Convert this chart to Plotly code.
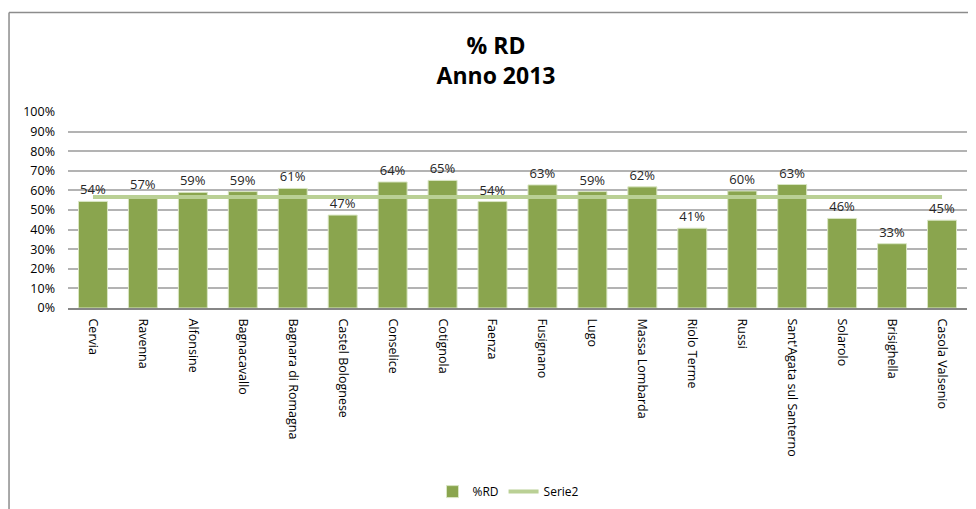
import plotly.graph_objects as go

comuni = ['Cervia', 'Ravenna', 'Alfonsine', 'Bagnacavallo', 'Bagnara di Romagna',
          'Castel Bolognese', 'Conselice', 'Cotignola', 'Faenza', 'Fusignano', 'Lugo',
          'Massa Lombarda', 'Riolo Terme', 'Russi', "Sant'Agata sul Santerno",
          'Solarolo', 'Brisighella', 'Casola Valsenio']
rd = [0.544, 0.571, 0.590, 0.594, 0.610, 0.474, 0.643, 0.651, 0.543, 0.628, 0.594,
      0.618, 0.407, 0.597, 0.630, 0.457, 0.328, 0.448]
serie2 = [0.566] * len(comuni)

bar = go.Bar(
    x=comuni, y=rd, name='%RD',
    marker=dict(color='#8aa54e', line=dict(color='#d9e6c4', width=1)),
    width=0.58,
    text=[f'{v:.0%}' for v in rd], textposition='outside',
    textfont=dict(size=13, color='#262626'),
    cliponaxis=False,
)
line = go.Scatter(
    x=comuni, y=serie2, name='Serie2', mode='lines',
    line=dict(color='#bad095', width=4),
)

# la pagina ha un margine di 8px, quindi i margini sono compensati
layout = go.Layout(
    width=976, height=509,
    paper_bgcolor='white', plot_bgcolor='white',
    font=dict(family='Open Sans', size=12, color='#000000'),
    title=dict(text='<b>% RD</b><br><b>Anno 2013</b>', x=0.5, xanchor='center',
               y=0.91, yanchor='top', font=dict(size=23, family='Open Sans')),
    margin=dict(l=60, r=17, t=104, b=208),
    showlegend=True,
    legend=dict(orientation='h', x=0.49, xanchor='center', y=-0.927, yanchor='middle',
                font=dict(size=12), itemwidth=30),
    xaxis=dict(tickangle=90, showline=True, linecolor='#868686', linewidth=2,
               ticks='', tickfont=dict(size=12.5), showgrid=False,
               ticklabelstandoff=6),
    yaxis=dict(range=[0, 1], dtick=0.1, tickformat='.0%', showgrid=True,
               gridcolor='#b3b3b3', gridwidth=1.5, zeroline=False,
               tickfont=dict(size=12.5), ticklabelstandoff=12),
    shapes=[
        # bordo dell'area del grafico
        dict(type='line', xref='paper', yref='paper', x0=-0.0656, x1=-0.0656,
             y0=1.5076, y1=-1.2, line=dict(color='#8c8c8c', width=1.5)),
        dict(type='line', xref='paper', yref='paper', x0=-0.0656, x1=1.02,
             y0=1.5076, y1=1.5076, line=dict(color='#8c8c8c', width=1.5)),
    ],
)

fig = go.Figure(data=[bar, line], layout=layout)
fig.write_html('out.html')
